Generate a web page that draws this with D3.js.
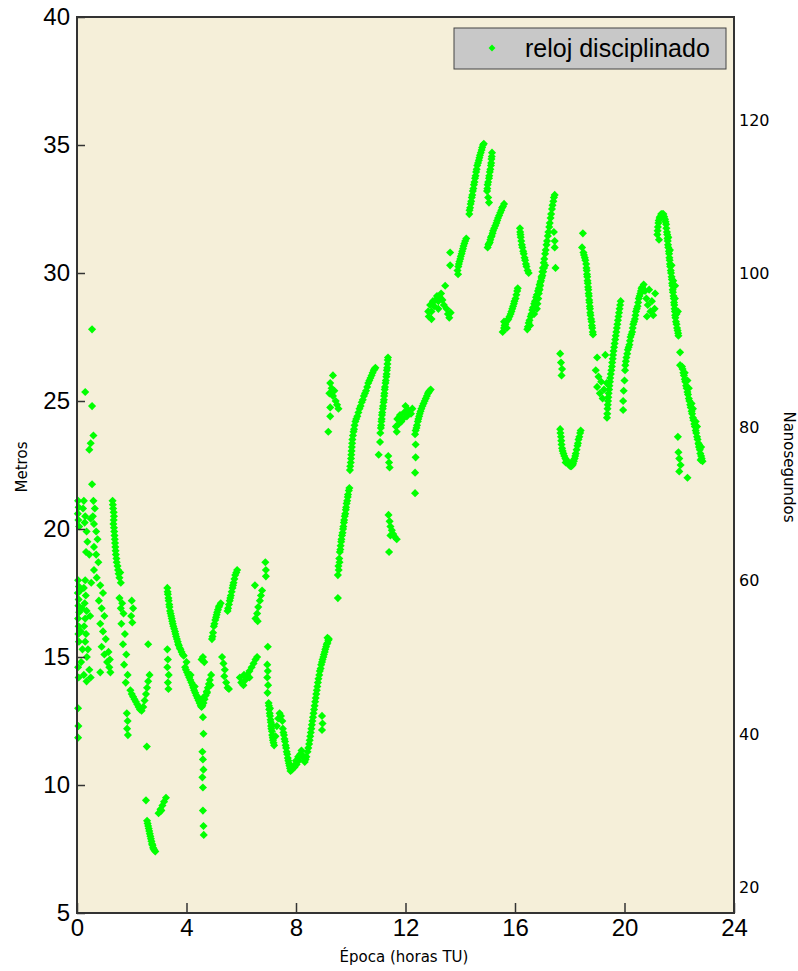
<!DOCTYPE html>
<html>
<head>
<meta charset="utf-8">
<script src="https://cdn.jsdelivr.net/npm/d3@7"></script>
<style>
  body { margin: 0; background: #fff; }
</style>
</head>
<body>
<div id="chart"></div>
<script>
// ticks
var horasTicks = [0, 4, 8, 12, 16, 20, 24];
var metrosTicks = [5, 10, 15, 20, 25, 30, 35, 40];
var nsTicks = [20, 40, 60, 80, 100, 120];
var serieNombre = "reloj disciplinado";

// [hora TU, metros], by stretches of the day
var tramo0a = [
  [0.04,21.1],[0.06,20.85],[0.03,20.6],[0.05,20.35],[0.08,20.1],[0.04,18.0],[0.07,17.75],[0.03,17.5],
  [0.06,17.25],[0.05,17.0],[0.08,16.75],[0.04,16.5],[0.06,16.2],[0.05,15.9],[0.07,15.6],[0.04,14.6],
  [0.06,14.2],[0.04,13.0],[0.05,12.3],[0.04,11.85],
  [0.25,21.1],[0.22,20.8],[0.3,20.5],[0.28,20.25],[0.35,19.9],[0.38,19.5],[0.33,19.1],
  [0.3,18.0],[0.25,17.7],[0.32,17.4],[0.28,17.1],[0.35,16.8],[0.3,16.5],[0.26,16.2],[0.33,15.9],
  [0.3,15.6],[0.4,15.3],[0.36,15.0],[0.45,14.5],[0.5,14.2],[0.15,14.8],[0.25,14.3],[0.35,14.05],
  [0.55,27.8],[0.3,25.35],[0.55,24.8],[0.6,23.65],[0.5,23.35],[0.45,23.1],[0.55,21.75],
  [0.6,21.1],[0.65,20.8],[0.58,20.5],[0.62,20.2],[0.7,19.9],[0.75,19.6],[0.62,19.3],[0.7,19.0],
  [0.78,18.7],[0.62,18.4],[0.72,18.1],[0.85,17.8],[0.95,17.5],[0.8,17.2],[0.9,16.9],[1.0,16.6],
  [0.85,16.3],[0.95,16.0],[1.05,15.7],[0.9,15.4],[1.0,15.1],[1.1,14.8],[0.85,14.4],
  [1.15,15.2],[1.2,14.9],[1.18,14.6],[1.22,14.4],
  [0.12,17.6],[0.18,16.9],[0.14,16.0],[0.2,15.3],[0.48,16.6],[0.52,17.9],[0.45,19.0],[0.5,20.4]
];
var tramo0b = [
  [1.3,21.1],[1.32,20.8],[1.35,20.5],[1.33,20.2],[1.36,19.9],[1.38,19.6],[1.4,19.3],[1.42,19.0],
  [1.45,18.7],[1.5,18.4],[1.55,18.1],[1.6,17.9],[1.58,18.3],[1.55,17.3],[1.6,16.9],
  [1.31,20.95],[1.34,20.65],[1.34,20.35],[1.35,20.05],[1.37,19.75],[1.39,19.45],[1.41,19.15],
  [1.44,18.85],[1.48,18.55],[1.52,18.25],
  [1.65,17.1],[1.7,16.7],[1.62,16.3],[1.75,15.9],[1.68,15.5],[1.8,15.1],[1.72,14.7],[1.85,14.3],
  [1.78,14.0],[2.0,17.2],[2.05,16.9],[1.98,16.6],[2.02,16.35],
  [1.82,12.8],[1.85,12.5],[1.83,12.2],[1.86,11.95],
  [1.95,13.7],[2.0,13.55],[2.05,13.45],[2.1,13.35],[2.15,13.25],[2.2,13.15],[2.25,13.05],[2.3,12.95],
  [2.36,12.9],[2.42,13.05],[2.47,13.3],[2.52,13.55],[2.56,13.8],[2.6,14.05],[2.65,14.3],
  [2.6,15.5],[2.55,11.5],
  [2.52,9.4],[2.56,8.6],[2.6,8.4],[2.64,8.2],[2.68,8.0],[2.72,7.8],[2.76,7.65],[2.8,7.5],[2.86,7.4],
  [2.58,8.5],[2.62,8.3],[2.66,8.1],[2.7,7.9],[2.74,7.7],[2.78,7.55],[2.83,7.45],
  [2.98,8.9],[3.05,9.05],[3.12,9.2],[3.18,9.35],[3.25,9.5],[3.08,9.0]
];
var tramo1 = [
  [3.3,17.7],[3.32,17.45],[3.35,17.2],[3.38,16.95],[3.42,16.7],[3.46,16.5],[3.5,16.3],[3.55,16.1],
  [3.6,15.9],[3.65,15.7],[3.7,15.5],[3.75,15.35],[3.82,15.2],[3.9,15.05],
  [3.31,17.55],[3.34,17.3],[3.37,17.05],[3.4,16.8],[3.44,16.6],[3.48,16.4],[3.52,16.2],[3.58,16.0],
  [3.62,15.8],[3.68,15.6],[3.72,15.45],[3.78,15.3],[3.86,15.1],
  [3.3,15.3],[3.32,14.9],[3.3,14.6],[3.35,14.3],[3.32,14.0],[3.34,13.75],
  [3.95,14.6],[4.02,14.4],[4.1,14.2],[4.18,14.0],[4.25,13.8],[4.32,13.6],[4.4,13.4],[4.48,13.2],
  [4.55,13.05],[4.62,13.2],[4.7,13.5],[4.78,13.8],[4.85,14.1],[4.9,14.3],
  [3.98,14.5],[4.06,14.3],[4.14,14.1],[4.22,13.9],[4.28,13.7],[4.36,13.5],[4.44,13.3],[4.52,13.1],
  [4.58,13.1],[4.66,13.35],[4.74,13.65],[4.82,13.95],
  [4.0,14.8],[4.15,14.3],[4.3,13.85],[4.45,13.4],[4.6,13.4],[4.75,13.6],[4.88,13.9],
  [4.55,14.9],[4.65,14.8],[4.6,15.0],
  [4.6,12.65],[4.62,12.0],[4.58,11.3],[4.6,11.0],[4.62,10.6],[4.58,10.3],[4.6,9.9],[4.6,9.0],
  [4.62,8.4],[4.63,8.05]
];
var tramo2 = [
  [4.93,15.7],[4.97,15.95],[5.0,16.2],[5.05,16.45],[5.1,16.65],[5.15,16.85],[5.2,17.0],[5.25,17.1],
  [4.95,15.8],[5.02,16.3],[5.08,16.55],[5.12,16.75],[5.18,16.95],
  [5.5,16.8],[5.55,17.05],[5.6,17.3],[5.65,17.55],[5.7,17.8],[5.75,18.05],[5.82,18.3],[5.85,18.4],
  [5.52,16.9],[5.58,17.2],[5.62,17.4],[5.68,17.7],[5.72,17.9],[5.78,18.2],
  [5.3,15.0],[5.35,14.75],[5.4,14.5],[5.38,14.25],[5.45,14.0],[5.5,13.8],[5.55,13.75],
  [5.95,14.2],[6.0,14.0],[6.08,13.9],[6.15,14.1],[6.22,14.3],[6.3,14.45],[6.38,14.6],[6.45,14.75],
  [6.52,14.9],[6.58,15.0],[6.1,14.3],[6.3,14.2],
  [6.5,17.8],[6.52,16.5],[6.58,16.7],[6.62,16.95],[6.68,17.2],[6.72,17.4],[6.76,17.6],[6.6,16.4],
  [6.88,18.7],[6.9,18.4],[6.9,18.15],
  [6.97,15.4],[6.95,14.7],[6.97,14.45],[6.95,14.2],[6.98,13.9],[6.96,13.6]
];
var tramo3 = [
  [7.0,13.2],[7.02,12.95],[7.05,12.7],[7.08,12.45],[7.1,12.2],[7.13,11.95],[7.16,11.75],[7.2,11.55],
  [7.05,13.0],[7.12,12.35],
  [7.01,13.1],[7.04,12.8],[7.07,12.55],[7.09,12.3],[7.12,12.1],[7.15,11.85],[7.18,11.65],
  [7.25,11.9],[7.3,12.3],[7.35,12.6],[7.4,12.8],[7.45,12.7],[7.5,12.5],
  [7.52,12.2],[7.56,11.95],[7.6,11.7],[7.64,11.45],[7.68,11.2],[7.72,10.95],[7.76,10.75],[7.8,10.55],
  [7.54,12.05],[7.58,11.8],[7.62,11.55],[7.66,11.3],[7.7,11.05],[7.74,10.85],[7.78,10.65],
  [7.88,10.65],[7.95,10.7],[8.02,10.8],[8.1,10.95],[8.15,11.2],[8.2,11.35],[8.25,11.15],[8.32,10.9],
  [8.38,11.1],[7.85,10.6],[7.92,10.75],[8.0,10.95],[8.08,11.1],[8.28,11.05],[8.35,11.0],
  [8.42,11.3],[8.48,11.6],[8.52,11.9],[8.56,12.2],[8.6,12.5],[8.64,12.8],[8.68,13.1],[8.72,13.4],
  [8.76,13.7],[8.8,14.0],[8.85,14.3],[8.9,14.55],[8.95,14.8],[9.0,15.0],[9.05,15.2],[9.1,15.4],
  [9.15,15.55],[9.2,15.7],
  [8.45,11.45],[8.5,11.75],[8.54,12.05],[8.58,12.35],[8.62,12.65],[8.66,12.95],[8.7,13.25],
  [8.74,13.55],[8.78,13.85],[8.82,14.15],[8.87,14.45],[8.92,14.7],[8.97,14.9],[9.02,15.1],
  [9.07,15.3],[9.12,15.5],[9.18,15.65],
  [8.95,12.7],[8.97,12.4],[8.95,12.15]
];
var tramo4 = [
  [9.35,26.0],[9.25,25.7],[9.3,25.5],[9.4,25.4],[9.22,25.3],[9.35,25.2],[9.45,25.0],[9.5,24.85],
  [9.55,24.7],[9.25,24.75],[9.25,24.4],[9.18,23.8],
  [9.15,15.75],[9.53,17.3],[9.53,18.2],[9.55,18.55],[9.58,18.85],[9.6,19.1],[9.63,19.35],[9.66,19.6],
  [9.7,19.85],[9.73,20.1],[9.76,20.35],[9.8,20.6],[9.83,20.85],[9.87,21.1],[9.9,21.35],[9.95,21.6],
  [9.56,18.4],[9.59,18.7],[9.62,19.2],[9.65,19.5],[9.68,19.75],[9.72,20.0],[9.75,20.25],
  [9.78,20.5],[9.82,20.75],[9.85,21.0],[9.89,21.25],[9.93,21.5],
  [9.97,22.3],[10.0,22.6],[10.02,22.9],[10.04,23.2],[10.06,23.5],[10.1,23.8],[10.14,24.05],
  [10.2,24.3],[10.28,24.55],[10.36,24.8],[10.44,25.05],[10.52,25.3],[10.6,25.55],[10.68,25.8],
  [10.76,26.0],[10.84,26.2],[10.9,26.3],
  [9.98,22.45],[10.01,22.75],[10.03,23.05],[10.05,23.35],[10.08,23.65],[10.12,23.9],[10.17,24.2],
  [10.24,24.4],[10.32,24.7],[10.4,24.95],[10.48,25.2],[10.56,25.4],[10.64,25.7],[10.72,25.9],
  [10.8,26.1],[10.87,26.25]
];
var tramo5 = [
  [11.36,26.7],[11.34,26.45],[11.32,26.2],[11.3,25.95],[11.27,25.7],[11.24,25.45],[11.22,25.2],
  [11.2,24.95],[11.17,24.7],[11.14,24.45],[11.12,24.2],[11.1,23.95],[11.08,23.75],[11.07,23.4],
  [11.02,22.9],
  [11.35,26.6],[11.33,26.3],[11.31,26.05],[11.28,25.8],[11.25,25.55],[11.23,25.3],[11.21,25.05],
  [11.18,24.8],[11.15,24.55],[11.13,24.3],[11.11,24.05],
  [11.37,22.85],[11.4,22.6],[11.42,22.4],
  [11.38,20.55],[11.42,20.3],[11.45,20.1],[11.5,19.95],[11.55,19.8],[11.6,19.7],[11.68,19.6],
  [11.45,19.75],[11.4,19.1],
  [11.65,24.0],[11.7,24.3],[11.75,24.1],[11.8,24.45],[11.9,24.3],[11.95,24.55],[12.05,24.4],
  [12.1,24.65],[12.2,24.5],[12.25,24.7],[11.68,23.8],[11.85,24.2],[12.0,24.8],
  [12.35,23.7],[12.4,23.95],[12.45,24.2],[12.5,24.4],[12.55,24.6],[12.62,24.8],[12.7,25.0],
  [12.78,25.2],[12.85,25.35],[12.92,25.45],
  [12.37,23.85],[12.42,24.05],[12.47,24.3],[12.52,24.5],[12.58,24.7],[12.66,24.9],[12.74,25.1],
  [12.82,25.3],[12.88,25.4],
  [12.37,23.3],[12.37,22.8],[12.35,22.2],[12.35,21.4]
];
var tramo6 = [
  [12.83,28.5],[12.85,28.3],[12.9,28.75],[12.95,28.5],[13.0,28.9],[13.05,28.7],[13.1,28.95],
  [13.15,29.1],[13.2,28.9],[13.25,29.05],[13.3,29.2],[13.35,28.95],[13.4,28.75],[13.45,29.5],
  [13.5,28.6],[13.55,28.4],[13.6,28.25],[13.65,28.45],[12.95,28.2],[13.2,28.6],
  [13.63,30.8],[13.63,30.3],
  [13.92,29.95],[13.9,30.1],[13.95,30.35],[14.0,30.55],[14.05,30.75],[14.1,30.95],[14.15,31.15],
  [14.22,31.35],
  [13.93,30.25],[13.97,30.45],[14.02,30.65],[14.07,30.85],[14.12,31.05],[14.18,31.25],
  [14.33,32.3],[14.36,32.55],[14.4,32.8],[14.44,33.05],[14.48,33.3],[14.52,33.55],[14.56,33.8],
  [14.6,34.05],[14.65,34.3],[14.7,34.5],[14.75,34.7],[14.8,34.9],[14.86,35.05],
  [14.34,32.45],[14.38,32.7],[14.42,32.95],[14.46,33.2],[14.5,33.45],[14.54,33.7],[14.58,33.95],
  [14.62,34.2],[14.68,34.4],[14.72,34.6],[14.78,34.8],[14.83,35.0],
  [15.16,34.7],[15.14,34.45],[15.12,34.2],[15.08,33.95],[15.05,33.7],[15.0,33.45],[14.98,33.2],
  [15.02,32.95],[15.05,32.75],
  [15.15,34.55],[15.13,34.3],[15.1,34.05],[15.06,33.8],[15.02,33.55],[14.99,33.3]
];
var tramo7 = [
  [15.0,31.0],[15.05,31.15],[15.1,31.3],[15.15,31.45],[15.2,31.65],[15.28,31.85],[15.35,32.05],
  [15.42,32.25],[15.5,32.45],[15.56,32.6],[15.6,32.7],
  [15.03,31.1],[15.08,31.2],[15.12,31.4],[15.18,31.55],[15.24,31.75],[15.32,31.95],[15.38,32.15],
  [15.46,32.35],[15.53,32.55],
  [15.55,27.7],[15.6,27.85],[15.65,28.0],[15.72,28.15],[15.8,28.3],[15.87,28.5],[15.93,28.7],
  [15.98,28.9],[16.05,29.15],[16.1,29.4],[15.6,28.1],[15.7,27.85],
  [15.62,27.95],[15.68,28.1],[15.76,28.2],[15.84,28.4],[15.9,28.6],[15.96,28.8],[16.02,29.0],
  [16.08,29.3],
  [16.18,31.75],[16.2,31.5],[16.23,31.25],[16.27,31.0],[16.32,30.75],[16.37,30.5],[16.42,30.25],
  [16.5,30.0],
  [16.19,31.6],[16.21,31.4],[16.25,31.1],[16.3,30.85],[16.35,30.6],[16.4,30.35],[16.46,30.1],
  [16.45,27.8],[16.5,28.05],[16.57,28.3],[16.63,28.55],[16.7,28.8],[16.77,29.05],[16.84,29.3],
  [16.9,29.55],[16.97,29.8],[17.03,30.05],[17.1,30.3],[16.55,27.95],[16.7,28.4],
  [16.47,27.9],[16.53,28.15],[16.6,28.4],[16.66,28.65],[16.73,28.9],[16.8,29.15],[16.87,29.4],
  [16.93,29.65],[17.0,29.9],[17.06,30.2],
  [16.8,28.6],[16.85,29.0],[16.9,29.35],[16.95,29.7],[17.0,30.05],[17.05,30.4],[17.1,30.75],
  [17.15,31.1],[17.2,31.45],[17.25,31.8],[17.3,32.15],[17.35,32.5],[17.4,32.8],[17.45,33.05],
  [16.82,28.8],[16.87,29.2],[16.92,29.5],[16.97,29.85],[17.02,30.2],[17.07,30.55],[17.12,30.9],
  [17.17,31.25],[17.22,31.6],[17.27,31.95],[17.32,32.3],[17.37,32.65],[17.42,32.95],
  [17.42,31.6],[17.45,31.25],[17.45,31.0],[17.48,30.2]
];
var tramo8 = [
  [18.48,31.55],[18.45,31.0],[18.5,30.8],[18.55,30.6],[18.6,30.35],[18.62,30.1],[18.64,29.85],
  [18.66,29.6],[18.68,29.35],[18.7,29.1],[18.72,28.85],[18.74,28.6],[18.76,28.35],[18.8,28.1],
  [18.82,27.85],[18.85,27.6],
  [18.52,30.7],[18.57,30.5],[18.61,30.2],[18.63,29.95],[18.65,29.7],[18.67,29.45],[18.69,29.2],
  [18.71,28.95],[18.73,28.7],[18.75,28.45],[18.78,28.2],[18.81,27.95],[18.84,27.7],
  [17.65,26.85],[17.68,26.5],[17.72,26.25],[17.7,26.0],
  [17.65,23.9],[17.68,23.6],[17.7,23.3],[17.74,23.05],[17.8,22.85],[17.88,22.7],[17.95,22.55],
  [18.02,22.45],[18.1,22.5],[18.15,22.65],[18.2,22.85],[18.25,23.1],[18.3,23.35],[18.35,23.6],
  [18.4,23.85],[17.85,22.6],[18.05,22.6],
  [17.66,23.75],[17.69,23.45],[17.72,23.15],[17.77,22.95],[17.84,22.75],[17.92,22.6],[17.98,22.5],
  [18.06,22.45],[18.12,22.55],[18.18,22.75],[18.22,22.95],[18.28,23.25],[18.32,23.5],[18.38,23.75],
  [19.0,26.7],[19.3,26.8],[18.95,26.2],[19.05,25.95],[19.15,25.75],[19.0,25.55],[19.1,25.3],
  [19.2,25.1],[19.25,25.45],[19.35,25.7]
];
var tramo9 = [
  [19.36,24.35],[19.38,24.7],[19.4,25.0],[19.42,25.3],[19.45,25.6],[19.48,25.9],[19.52,26.2],
  [19.55,26.5],[19.58,26.8],[19.62,27.1],[19.66,27.4],[19.7,27.7],[19.74,28.0],[19.78,28.3],
  [19.82,28.6],[19.86,28.9],
  [19.37,24.5],[19.39,24.85],[19.41,25.15],[19.44,25.45],[19.47,25.75],[19.5,26.05],[19.54,26.35],
  [19.57,26.65],[19.6,26.95],[19.64,27.25],[19.68,27.55],[19.72,27.85],[19.76,28.15],[19.8,28.45],
  [19.84,28.75],
  [19.95,24.65],[19.95,25.0],[19.97,25.4],[20.0,25.8],[20.02,26.2],[20.05,26.55],[20.1,26.85],
  [20.15,27.1],[20.2,27.35],[20.25,27.6],[20.3,27.85],[20.35,28.1],[20.4,28.35],[20.45,28.6],
  [20.5,28.85],[20.55,29.1],[20.6,29.3],[20.65,29.45],
  [20.03,26.4],[20.07,26.7],[20.12,27.0],[20.18,27.2],[20.22,27.5],[20.28,27.7],[20.32,28.0],
  [20.38,28.2],[20.42,28.5],[20.48,28.7],[20.52,29.0],[20.58,29.2],[20.62,29.4],
  [20.7,29.55],[20.75,29.3],[20.8,29.0],[20.85,28.75],[20.9,29.35],[20.95,28.5],[21.0,28.9],
  [21.05,28.35],[21.1,28.6],[21.12,29.2],[20.82,28.3]
];
var tramo10 = [
  [21.2,31.5],[21.22,31.8],[21.25,32.05],[21.3,32.2],[21.38,32.3],[21.45,32.2],[21.5,32.0],
  [21.21,31.65],[21.24,31.95],[21.28,32.15],[21.34,32.3],[21.42,32.3],[21.48,32.1],[21.52,31.9],
  [21.53,31.75],[21.56,31.5],[21.58,31.25],[21.6,31.0],[21.63,30.75],[21.65,30.5],[21.67,30.25],
  [21.7,30.0],[21.73,29.75],[21.75,29.5],[21.77,29.25],[21.8,29.0],[21.82,28.75],[21.84,28.5],
  [21.86,28.25],[21.9,28.0],[21.94,27.75],[21.97,27.55],[21.26,31.3],[21.85,29.5],[21.95,28.5],
  [21.55,31.6],[21.57,31.35],[21.59,31.1],[21.62,30.85],[21.64,30.6],[21.66,30.35],[21.69,30.1],
  [21.72,29.85],[21.74,29.6],[21.76,29.35],[21.79,29.1],[21.81,28.85],[21.83,28.6],[21.85,28.35],
  [21.88,28.1],[21.92,27.85],[21.96,27.65],
  [21.6,31.4],[21.66,30.9],[21.72,30.3],[21.78,29.7],[21.84,29.0],[21.9,28.4],
  [22.03,26.9],[22.03,26.4],
  [22.1,26.35],[22.15,26.1],[22.2,25.85],[22.25,25.6],[22.3,25.35],[22.35,25.1],[22.4,24.85],
  [22.45,24.6],[22.5,24.35],[22.55,24.1],[22.6,23.85],[22.65,23.6],[22.7,23.35],[22.75,23.1],
  [22.8,22.85],[22.85,22.65],[22.3,25.8],[22.45,24.9],[22.6,24.2],
  [22.12,26.25],[22.17,26.0],[22.22,25.75],[22.27,25.5],[22.32,25.25],[22.37,25.0],[22.42,24.75],
  [22.47,24.5],[22.52,24.25],[22.57,24.0],[22.62,23.75],[22.67,23.5],[22.72,23.2],[22.77,22.95],
  [22.82,22.75],[22.2,26.1],[22.35,25.5],[22.5,24.7],[22.65,24.0],[22.8,23.2],
  [21.95,23.6],[21.97,23.0],[22.0,22.75],[22.05,22.5],[22.0,22.25],[22.3,22.0],
  [22.72,23.3],[22.78,22.7]
];

var puntos = d3.merge([tramo0a, tramo0b, tramo1, tramo2, tramo3, tramo4, tramo5,
                       tramo6, tramo7, tramo8, tramo9, tramo10]);

var width = 798, height = 971;
var plotLeft = 77, plotRight = 734, plotTop = 17, plotBottom = 913;
var M_A_NS = 3.33564; // 1 m of light path in ns

var svg = d3.select('#chart')
    .append('svg')
    .attr('width', width)
    .attr('height', height);

var x = d3.scaleLinear().domain([0, 24]).range([plotLeft, plotRight]);
var y = d3.scaleLinear().domain([5, 40]).range([plotBottom, plotTop]);
var yNs = d3.scaleLinear().domain([5 * M_A_NS, 40 * M_A_NS]).range([plotBottom, plotTop]);

// plot background
svg.append('rect')
    .attr('x', plotLeft).attr('y', plotTop)
    .attr('width', plotRight - plotLeft).attr('height', plotBottom - plotTop)
    .attr('fill', '#f5efd9');

// points
var simbolo = d3.symbol().type(d3.symbolDiamond2).size(42);
svg.append('g')
  .selectAll('path')
  .data(puntos)
  .enter()
  .append('path')
    .attr('d', simbolo)
    .attr('transform', function(d){ return 'translate(' + x(d[0]) + ',' + y(d[1]) + ')'; })
    .attr('fill', '#00ff00');

// frame
svg.append('rect')
    .attr('x', plotLeft).attr('y', plotTop)
    .attr('width', plotRight - plotLeft).attr('height', plotBottom - plotTop)
    .attr('fill', 'none')
    .attr('stroke', '#333')
    .attr('stroke-width', 2);

// axes
var ejeX = svg.append('g')
    .attr('transform', 'translate(0,' + plotBottom + ')')
    .call(d3.axisBottom(x).tickValues(horasTicks).tickSizeInner(-10).tickSizeOuter(0).tickPadding(6));
var ejeY = svg.append('g')
    .attr('transform', 'translate(' + plotLeft + ',0)')
    .call(d3.axisLeft(y).tickValues(metrosTicks).tickSizeInner(-8).tickSizeOuter(0).tickPadding(7));
var ejeNs = svg.append('g')
    .attr('transform', 'translate(' + plotRight + ',0)')
    .call(d3.axisRight(yNs).tickValues(nsTicks).tickSize(0).tickPadding(5));

[ejeX, ejeY, ejeNs].forEach(function(g){ g.select('.domain').remove(); });
ejeX.selectAll('line').attr('stroke', '#333').attr('stroke-width', 1.5);
ejeY.selectAll('line').attr('stroke', '#333').attr('stroke-width', 1.5);
ejeX.selectAll('text').attr('font-family', 'Liberation Sans, Arial, sans-serif').attr('font-size', 24).attr('fill', '#000');
ejeY.selectAll('text').attr('font-family', 'Liberation Sans, Arial, sans-serif').attr('font-size', 24).attr('fill', '#000');
ejeNs.selectAll('text').attr('font-family', 'DejaVu Sans, sans-serif').attr('font-size', 16).attr('fill', '#000');

// axis titles
svg.append('text')
    .attr('x', 404).attr('y', 962)
    .attr('text-anchor', 'middle')
    .attr('font-family', 'DejaVu Sans, sans-serif').attr('font-size', 15)
    .text('Época (horas TU)');
svg.append('text')
    .attr('transform', 'translate(27,467) rotate(-90)')
    .attr('text-anchor', 'middle')
    .attr('font-family', 'DejaVu Sans, sans-serif').attr('font-size', 15)
    .text('Metros');
svg.append('text')
    .attr('transform', 'translate(784,467) rotate(90)')
    .attr('text-anchor', 'middle')
    .attr('font-family', 'DejaVu Sans, sans-serif').attr('font-size', 15)
    .text('Nanosegundos');

// legend
var leyenda = svg.append('g');
leyenda.append('rect')
    .attr('x', 454).attr('y', 28).attr('width', 272).attr('height', 41)
    .attr('fill', '#c8c8c8').attr('stroke', '#444').attr('stroke-width', 1);
leyenda.append('path')
    .attr('d', d3.symbol().type(d3.symbolDiamond2).size(30))
    .attr('transform', 'translate(492,48)')
    .attr('fill', '#00ff00');
leyenda.append('text')
    .attr('x', 525).attr('y', 57)
    .attr('font-family', 'Liberation Sans, Arial, sans-serif').attr('font-size', 25)
    .text(serieNombre);
</script>
</body>
</html>
